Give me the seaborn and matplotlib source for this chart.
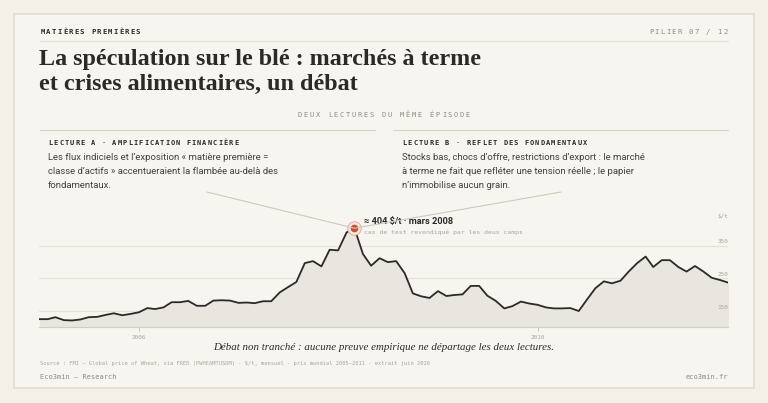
import pandas as pd
import matplotlib.pyplot as plt
import matplotlib.dates as mdates
import seaborn as sns
from matplotlib.patches import Rectangle, ConnectionPatch
from matplotlib.transforms import offset_copy

# ================================
# Data ($/t monthly, 2005-01 -> 2011-12)
# ================================
months = pd.date_range("2005-01-01", periods=84, freq="MS")
prices = [
    125, 125, 131, 122, 121, 124, 131, 132, 138, 143, 137, 141,
    146, 159, 156, 161, 177, 177, 181, 166, 166, 182, 183, 182,
    175, 176, 174, 180, 180, 207, 223, 239, 297, 303, 287, 338,
    336, 391, 404, 325, 289, 312, 300, 303, 266, 204, 195, 190,
    211, 196, 199, 201, 227, 227, 197, 181, 158, 165, 179, 173,
    169, 161, 158, 158, 159, 150, 185, 220, 241, 235, 243, 271,
    297, 317, 285, 306, 306, 285, 271, 288, 271, 252, 245, 237,
]
grid_values = [150, 250, 350]
year_ticks = ["2006-01-01", "2010-01-01"]
year_labels = ["2006", "2010"]
peak_label = "≈ 404 $/t · mars 2008"
peak_note = "cas de test revendiqué par les deux camps"

title_lines = ["La spéculation sur le blé : marchés à terme",
               "et crises alimentaires, un débat"]
lecture_a = ["Les flux indiciels et l’exposition « matière première =",
             "classe d’actifs » accentueraient la flambée au-delà des",
             "fondamentaux."]
lecture_b = ["Stocks bas, chocs d’offre, restrictions d’export : le marché",
             "à terme ne fait que refléter une tension réelle ; le papier",
             "n’immobilise aucun grain."]

df = pd.DataFrame({"date": months, "price": prices})

# ================================
# Style
# ================================
sns.set_theme(style="white")
plt.rcParams["font.family"] = ["Roboto", "DejaVu Sans"]
MONO = ["DejaVu Sans Mono"]
SERIF = ["Liberation Serif", "DejaVu Serif"]
DARK = "#2b2a28"
GREY = "#8e8a82"
LIGHT = "#aaa69d"
BG = "#f3f0e8"
PANEL = "#f7f5ef"

fig = plt.figure(figsize=(7.68, 4.03), dpi=100, facecolor=BG)

# pixel-coordinate canvas for the page furniture
bg = fig.add_axes([0, 0, 1, 1])
bg.set_xlim(0, 768)
bg.set_ylim(403, 0)
bg.axis("off")
bg.add_patch(Rectangle((14, 14), 740, 374, facecolor=PANEL, edgecolor="#e2ddd0", lw=1.2))


def spaced(x, y, s, step, ha="left", **kw):
    # letter-spaced text, one glyph per cell
    n = len(s)
    x0 = {"left": x, "right": x - n * step, "center": x - n * step / 2}[ha]
    for i, ch in enumerate(s):
        bg.text(x0 + (i + 0.5) * step, y, ch, ha="center", va="center", **kw)


spaced(40, 32, "MATIÈRES PREMIÈRES", 5.6, family=MONO, fontsize=5.2,
       fontweight="bold", color=DARK)
spaced(728, 32, "PILIER 07 / 12", 5.7, ha="right", family=MONO, fontsize=5.2, color=GREY)
bg.plot([40, 728], [41, 41], color="#e6e1d6", lw=0.8)

bg.text(39, 64.5, title_lines[0], family=SERIF, fontsize=17.4, fontweight="bold",
        color=DARK, va="baseline")
bg.text(39, 90, title_lines[1], family=SERIF, fontsize=17.4, fontweight="bold",
        color=DARK, va="baseline")

spaced(384, 115, "DEUX LECTURES DU MÊME ÉPISODE", 6.0, ha="center", family=MONO,
       fontsize=5.0, color=GREY)

bg.plot([40, 375], [130, 130], color="#d9d4c8", lw=0.8)
bg.plot([393, 728], [130, 130], color="#d9d4c8", lw=0.8)
spaced(48, 143, "LECTURE A · AMPLIFICATION FINANCIÈRE", 5.3, family=MONO,
       fontsize=5.0, fontweight="bold", color=DARK)
spaced(402, 143, "LECTURE B · REFLET DES FONDAMENTAUX", 5.3, family=MONO,
       fontsize=5.0, fontweight="bold", color=DARK)
for k, (la, lb) in enumerate(zip(lecture_a, lecture_b)):
    bg.text(48, 158 + 14 * k, la, fontsize=6.8, color="#45423d", va="center")
    bg.text(402, 158 + 14 * k, lb, fontsize=6.8, color="#45423d", va="center")

bg.text(384, 347, "Débat non tranché : aucune preuve empirique ne départage les deux lectures.",
        family=SERIF, style="italic", fontsize=7.8, color=DARK, ha="center", va="center")
bg.text(40, 363, "Source : FMI — Global price of Wheat, via FRED (PWHEAMTUSDM) · $/t, mensuel · "
        "prix mondial 2005–2011 · extrait juin 2026",
        family=MONO, fontsize=3.85, color=LIGHT, va="center")
bg.text(40, 377, "Eco3min — Research", family=MONO, fontsize=5.0, color=GREY, va="center")
bg.text(728, 377, "eco3min.fr", family=MONO, fontsize=5.0, color=GREY, va="center", ha="right")

# ================================
# Price chart
# ================================
ax = fig.add_axes([39.3 / 768, (403 - 327.3) / 403, 689 / 768, 110.8 / 403])
ax.set_facecolor("none")
ax.fill_between(df["date"], df["price"], 100, color="#e9e6df", lw=0)
sns.lineplot(data=df, x="date", y="price", ax=ax, color=DARK, lw=1.3)

ax.set_xlim(df["date"].iloc[0], df["date"].iloc[-1])
ax.set_ylim(100, 440)
for v in grid_values:
    ax.axhline(v, color="#e7e2d8", lw=0.8, zorder=0)
    lab_tr = offset_copy(ax.get_yaxis_transform(), fig=fig, y=1.5, units="dots")
    ax.text(1, v, str(v), transform=lab_tr, ha="right", va="bottom",
            family=MONO, fontsize=4.3, color=LIGHT)
ax.text(1, 1, "$/t", transform=ax.transAxes, ha="right", va="center",
        family=MONO, fontsize=4.3, color=LIGHT)

ax.set_yticks([])
ax.set_xticks(pd.to_datetime(year_ticks))
ax.set_xticklabels(year_labels)
ax.tick_params(axis="x", bottom=True, length=3, width=0.6, color="#bdb8ad",
               labelsize=4.3, labelcolor=LIGHT, pad=2.5)
for t in ax.get_xticklabels():
    t.set_family(MONO)
ax.set_xlabel("")
ax.set_ylabel("")
for side in ["top", "left", "right"]:
    ax.spines[side].set_visible(False)
ax.spines["bottom"].set_color("#d3cec3")
ax.spines["bottom"].set_linewidth(0.8)

# peak highlight
ipk = df["price"].idxmax()
px = mdates.date2num(df["date"].iloc[ipk])
py = float(df["price"].iloc[ipk])
ax.scatter([px], [py], s=95, facecolor="#f7e6de", edgecolor="#e6b09a", lw=0.7, zorder=4)
ax.scatter([px], [py], s=30, color="#c2532f", lw=0, zorder=5)
ax.annotate(peak_label, xy=(px, py), xytext=(10, 7),
            textcoords="offset pixels", fontsize=6.7, fontweight="bold",
            color=DARK, va="center", family=["Roboto", "DejaVu Sans"])
ax.annotate(peak_note, xy=(px, py), xytext=(10, -4),
            textcoords="offset pixels", fontsize=4.6, color=LIGHT, va="center",
            family=MONO)

# leader lines from both readings down to the peak
for x0 in [207, 561]:
    con = ConnectionPatch(xyA=(x0, 192), coordsA=bg.transData,
                          xyB=(px, py), coordsB=ax.transData,
                          color="#cfc9bd", lw=0.8, zorder=3)
    fig.add_artist(con)

fig.savefig("out.png", dpi=100, facecolor=BG)
